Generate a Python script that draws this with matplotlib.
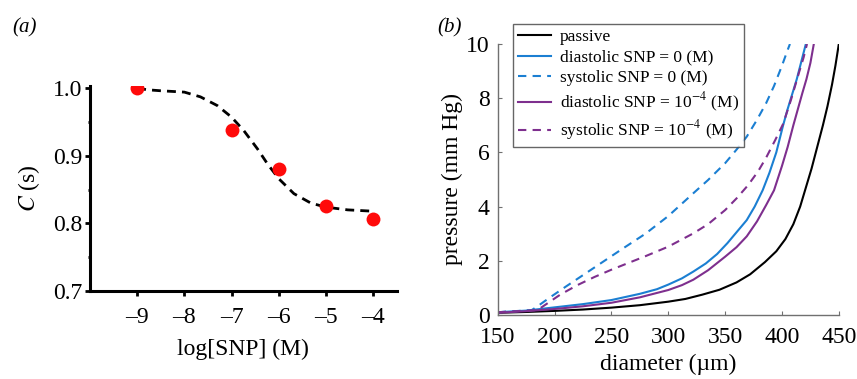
import numpy as np
import matplotlib
matplotlib.use('Agg')
import matplotlib.pyplot as plt

plt.rcParams['font.family'] = ['Liberation Serif', 'DejaVu Serif']
plt.rcParams['mathtext.fontset'] = 'stix'

# panel (a): measured points and fitted dashed curve
log_snp = [-9, -7, -6, -5, -4]
c_vals = [1.0, 0.938, 0.881, 0.826, 0.806]
fit_x = [-9, -8.79, -8.5, -8.0, -7.66, -7.3, -7.0, -6.74, -6.45, -6.24, -6.0,
         -5.68, -5.32, -5.0, -4.54, -4.0]
fit_y = [1.0, 0.9975, 0.996, 0.994, 0.987, 0.974, 0.957, 0.937, 0.910, 0.888,
         0.866, 0.844, 0.830, 0.824, 0.820, 0.818]

# panel (b): pressure-diameter curves
passive_d = [150, 175, 200, 225, 250, 275, 300, 315, 330, 345, 360, 372, 385, 395,
             403, 410, 416, 421, 426, 431, 436, 440, 444, 447, 450]
passive_p = [0.08, 0.11, 0.15, 0.2, 0.27, 0.36, 0.49, 0.59, 0.75, 0.93, 1.2, 1.5, 1.95, 2.35,
             2.8, 3.35, 4.0, 4.7, 5.4, 6.2, 7.0, 7.7, 8.5, 9.2, 10.0]

dia0_d = [150, 175, 200, 225, 250, 275, 290, 300, 312, 322, 333, 343, 352, 360, 369,
          376, 383, 389, 395, 401, 405, 409, 413, 417, 421]
dia0_p = [0.1, 0.16, 0.28, 0.4, 0.55, 0.78, 0.95, 1.12, 1.35, 1.6, 1.9, 2.25, 2.65, 3.05, 3.5,
          4.0, 4.6, 5.25, 6.0, 7.0, 7.6, 8.15, 8.7, 9.35, 10.0]

sys0_d = [150, 180, 186, 195, 210, 235, 260, 280, 300, 322, 335, 350, 360, 369, 378,
          386, 393, 400, 405, 407]
sys0_p = [0.1, 0.18, 0.35, 0.62, 1.05, 1.75, 2.45, 3.0, 3.65, 4.49, 4.98, 5.6, 6.1, 6.58, 7.2,
          7.81, 8.45, 9.2, 9.78, 10.0]

dia4_d = [150, 175, 200, 225, 250, 275, 300, 312, 322, 335, 350, 360, 369, 378, 386,
          393, 400, 405, 410, 414, 418, 421.5, 425, 428]
dia4_p = [0.08, 0.14, 0.22, 0.32, 0.45, 0.65, 0.92, 1.1, 1.3, 1.65, 2.15, 2.5, 2.9, 3.45, 4.05,
          4.6, 5.5, 6.2, 7.0, 7.6, 8.2, 8.7, 9.3, 10.0]

sys4_d = [150, 185, 192, 205, 220, 235, 250, 265, 280, 300, 322, 335, 350, 360, 370,
          379, 386, 394, 401, 408, 415, 419, 422]
sys4_p = [0.1, 0.18, 0.38, 0.75, 1.1, 1.4, 1.67, 1.92, 2.17, 2.52, 3.01, 3.35, 3.87, 4.3, 4.78,
          5.3, 5.8, 6.45, 7.05, 7.95, 8.95, 9.5, 10.0]

blue = '#1b7fd2'
purple = '#7e2f8e'

fig = plt.figure(figsize=(8.57, 3.79), dpi=100)

# ---- (a)
ax1 = fig.add_axes([0.105, 0.232, 0.358, 0.541])
ax1.plot(fit_x, fit_y, '--', color='black', lw=2.0, dashes=(3.2, 2.2))
ax1.plot(log_snp, c_vals, 'o', color='#ff0a0a', markersize=10, markeredgewidth=0, zorder=3)
ax1.set_xlim(-10, -3.5)
ax1.set_ylim(0.7, 1.003)
ax1.set_xticks([-9, -8, -7, -6, -5, -4])
ax1.set_xticklabels(['\u20139', '\u20138', '\u20137', '\u20136', '\u20135', '\u20134'])
ax1.set_yticks([0.7, 0.8, 0.9, 1.0])
ax1.set_yticks([0.75, 0.85, 0.95], minor=True)
ax1.set_yticklabels(['0.7', '0.8', '0.9', '1.0'])
for s in ['top', 'right']:
    ax1.spines[s].set_visible(False)
for s in ['left', 'bottom']:
    ax1.spines[s].set_linewidth(2.2)
ax1.tick_params(direction='out', length=3.5, width=2, labelsize=17, pad=2)
ax1.tick_params(axis='x', pad=8)
ax1.tick_params(which='minor', direction='out', length=1.5, width=2)
ax1.set_xlabel('log[SNP] (M)', fontsize=17, labelpad=8)
ax1.set_ylabel(r'$C$ (s)', fontsize=17, labelpad=8)
fig.text(0.014, 0.915, '(a)', fontsize=15, style='italic')

# ---- (b)
ax2 = fig.add_axes([0.5808, 0.169, 0.398, 0.715])
ax2.plot(passive_d, passive_p, color='black', lw=1.5, label='passive')
ax2.plot(dia0_d, dia0_p, color=blue, lw=1.5, label='diastolic SNP = 0 (M)')
ax2.plot(sys0_d, sys0_p, '--', color=blue, lw=1.5, dashes=(4, 3), label='systolic SNP = 0 (M)')
ax2.plot(dia4_d, dia4_p, color=purple, lw=1.5, label=r'diastolic SNP = 10$^{-4}$ (M)')
ax2.plot(sys4_d, sys4_p, '--', color=purple, lw=1.5, dashes=(4, 3), label=r'systolic SNP = 10$^{-4}$ (M)')
ax2.set_xlim(150, 450)
ax2.set_ylim(0, 10)
ax2.set_xticks([150, 200, 250, 300, 350, 400, 450])
ax2.set_yticks([0, 2, 4, 6, 8, 10])
for s in ['top', 'right']:
    ax2.spines[s].set_visible(False)
for s in ['left', 'bottom']:
    ax2.spines[s].set_color('#707070')
    ax2.spines[s].set_linewidth(1.0)
ax2.tick_params(direction='in', length=3, color='#707070', labelsize=17, pad=6)
ax2.tick_params(axis='x', pad=9)
ax2.set_xlabel('diameter (\u00b5m)', fontsize=17, labelpad=4)
ax2.set_ylabel('pressure (mm Hg)', fontsize=17, labelpad=2)
leg = ax2.legend(loc='upper left', bbox_to_anchor=(513 / 857, 1 - 24 / 379),
                 bbox_transform=fig.transFigure, fontsize=12.5, frameon=True,
                 fancybox=False, handlelength=1.9, handletextpad=0.5,
                 borderpad=0.3, labelspacing=0.25, borderaxespad=0)
leg.get_frame().set_edgecolor('#404040')
leg.get_frame().set_linewidth(1.0)
fig.text(0.51, 0.915, '(b)', fontsize=15, style='italic')

fig.savefig('out.png', dpi=100)
